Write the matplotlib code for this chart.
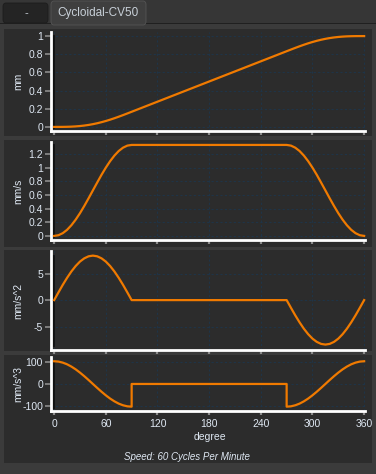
import matplotlib
matplotlib.use("Agg")
from matplotlib import pyplot as plt
from matplotlib.patches import Rectangle, FancyBboxPatch
from matplotlib.ticker import FormatStrFormatter

# ---- data (cam law: Cycloidal-CV50) ----
deg = [0, 5, 10, 15, 20, 25, 30, 35, 40, 45, 50, 55, 60, 65, 70, 75, 80, 85, 90,
       270, 275, 280, 285, 290, 295, 300, 305, 310, 315, 320, 325, 330, 335, 340, 345, 350, 355, 360]

disp = [0, 0.0001, 0.0004, 0.0013, 0.0029, 0.0057, 0.0096, 0.0150, 0.0218, 0.0303,
        0.0404, 0.0520, 0.0652, 0.0797, 0.0955, 0.1124, 0.1300, 0.1482, 0.1667,
        0.8333, 0.8518, 0.8700, 0.8876, 0.9045, 0.9203, 0.9348, 0.9480, 0.9596, 0.9697,
        0.9782, 0.9850, 0.9904, 0.9943, 0.9971, 0.9987, 0.9996, 0.9999, 1.0]

vel = [0, 0.010, 0.040, 0.089, 0.156, 0.238, 0.333, 0.439, 0.551, 0.667,
       0.782, 0.895, 1.000, 1.095, 1.177, 1.244, 1.293, 1.323, 1.333,
       1.333, 1.323, 1.293, 1.244, 1.177, 1.095, 1.000, 0.895, 0.782, 0.667,
       0.551, 0.439, 0.333, 0.238, 0.156, 0.089, 0.040, 0.010, 0]

acc = [0, 1.45, 2.87, 4.19, 5.39, 6.42, 7.26, 7.87, 8.25, 8.38,
       8.25, 7.87, 7.26, 6.42, 5.39, 4.19, 2.87, 1.45, 0,
       0, -1.45, -2.87, -4.19, -5.39, -6.42, -7.26, -7.87, -8.25, -8.38,
       -8.25, -7.87, -7.26, -6.42, -5.39, -4.19, -2.87, -1.45, 0]

jerk_deg = [0, 5, 10, 15, 20, 25, 30, 35, 40, 45, 50, 55, 60, 65, 70, 75, 80, 85, 90,
            90, 270,
            270, 275, 280, 285, 290, 295, 300, 305, 310, 315, 320, 325, 330, 335, 340, 345, 350, 355, 360]
jerk = [105.3, 103.7, 98.9, 91.2, 80.6, 67.7, 52.6, 36.0, 18.3, 0,
        -18.3, -36.0, -52.6, -67.7, -80.6, -91.2, -98.9, -103.7, -105.3,
        0, 0,
        -105.3, -103.7, -98.9, -91.2, -80.6, -67.7, -52.6, -36.0, -18.3, 0,
        18.3, 36.0, 52.6, 67.7, 80.6, 91.2, 98.9, 103.7, 105.3]

units = ["mm", "mm/s", "mm/s^2", "mm/s^3"]
yticks = [[0, 0.2, 0.4, 0.6, 0.8, 1], [0, 0.2, 0.4, 0.6, 0.8, 1, 1.2], [-5, 0, 5], [-100, 0, 100]]
ylims = [(-0.045, 1.045), (-0.06, 1.376), (-9.4, 9.25), (-124, 125)]
xticks = [0, 60, 120, 180, 240, 300, 360]
tab_names = ["-", "Cycloidal-CV50"]
footer = "Speed: 60 Cycles Per Minute"

# ---- colours ----
FRAME = "#3b3b3b"
PANEL = "#2c2c2c"
ORANGE = "#f07a00"
TXT = "#dfe8f3"
GRID = "#1f3447"
TICK = "#8c8c8c"

plt.rcParams['font.family'] = ['Liberation Sans', 'DejaVu Sans']

W, H = 376, 474
fig = plt.figure(figsize=(W / 100, H / 100), dpi=100, facecolor=FRAME)


def px_rect(x0, y0, x1, y1, color, z=-5, **kw):
    # rectangle given in pixels from the top-left corner
    r = Rectangle((x0 / W, 1 - y1 / H), (x1 - x0) / W, (y1 - y0) / H,
                  transform=fig.transFigure, facecolor=color, edgecolor="none", zorder=z, **kw)
    fig.add_artist(r)
    return r


# tab bar
px_rect(0, 0, W, 24, "#363636")
px_rect(0, 23, W, 24, "#202020")
tab1 = FancyBboxPatch((3 / W, 1 - 23 / H), 45 / W, 20 / H, boxstyle="round,pad=0,rounding_size=0.008",
                      transform=fig.transFigure, facecolor="#242424", edgecolor="#1c1c1c", lw=0.6, zorder=-4)
fig.add_artist(tab1)
tab2 = FancyBboxPatch((51 / W, 1 - 25 / H), 95 / W, 24 / H, boxstyle="round,pad=0,rounding_size=0.008",
                      transform=fig.transFigure, facecolor="#3f3f3f", edgecolor="#555555", lw=0.6, zorder=-4)
fig.add_artist(tab2)
fig.text(26 / W, 1 - 13 / H, tab_names[0], ha="center", va="center", color="#c8d0d8", fontsize=8)
fig.text(98.5 / W, 1 - 13 / H, tab_names[1], ha="center", va="center", color="#c8d0d8", fontsize=8.5)

# panel containers (pixels: top, bottom)
containers = [(29, 136), (140, 247), (250, 351), (355, 463)]
for top, bot in containers:
    px_rect(4, top, 372, bot, PANEL)

# axes boxes in pixels (top, bottom)
boxes = [(32, 131), (142, 240), (251, 350), (357, 410.7)]
left_px, right_px = 50.7, 365

series = [(deg, disp), (deg, vel), (deg, acc), (jerk_deg, jerk)]
axes = []
for i, (top, bot) in enumerate(boxes):
    ax = fig.add_axes([left_px / W, 1 - bot / H, (right_px - left_px) / W, (bot - top) / H])
    ax.set_facecolor(PANEL)
    for s in ["top", "right"]:
        ax.spines[s].set_visible(False)
    for s in ["left", "bottom"]:
        ax.spines[s].set_color("white")
        ax.spines[s].set_linewidth(2)
    xs, ys = series[i]
    ax.plot([-1, -1], [min(ys), max(ys)], color="#111111", lw=2, zorder=1.5)
    ax.plot(xs, ys, color=ORANGE, lw=1.6, zorder=3, clip_on=False)
    ax.set_xlim(-4, 361)
    ax.set_ylim(*ylims[i])
    ax.set_xticks(xticks)
    ax.set_yticks(yticks[i])
    ax.yaxis.set_major_formatter(FormatStrFormatter("%g"))
    ax.grid(True, color=GRID, lw=0.8, ls=(0, (2, 2)))
    ax.set_axisbelow(True)
    ax.tick_params(axis="x", direction="out", length=3, width=1.6, color=TICK,
                   labelcolor=TXT, labelsize=7.5, pad=3)
    ax.tick_params(axis="y", direction="out", length=4, width=1.2, color=TICK,
                   labelcolor=TXT, labelsize=7.5, pad=1.5)
    if i < 3:
        ax.set_xticklabels([])
    ax.set_ylabel(units[i], color=TXT, fontsize=7.5)
    ax.yaxis.set_label_coords((23 - left_px) / (right_px - left_px), 0.5)
    axes.append(ax)

fig.text(210 / W, 1 - 437 / H, "degree", ha="center", va="center", color=TXT, fontsize=7.5)
fig.text(187 / W, 1 - 457 / H, footer, ha="center", va="center", color=TXT, fontsize=7, style="italic")

# window frame drawn on top so the last tick label gets clipped like in the app
px_rect(372, 24, W, H, FRAME, z=20)
px_rect(0, 463, W, H, FRAME, z=20)

fig.savefig("out.png", dpi=100, facecolor=FRAME)
